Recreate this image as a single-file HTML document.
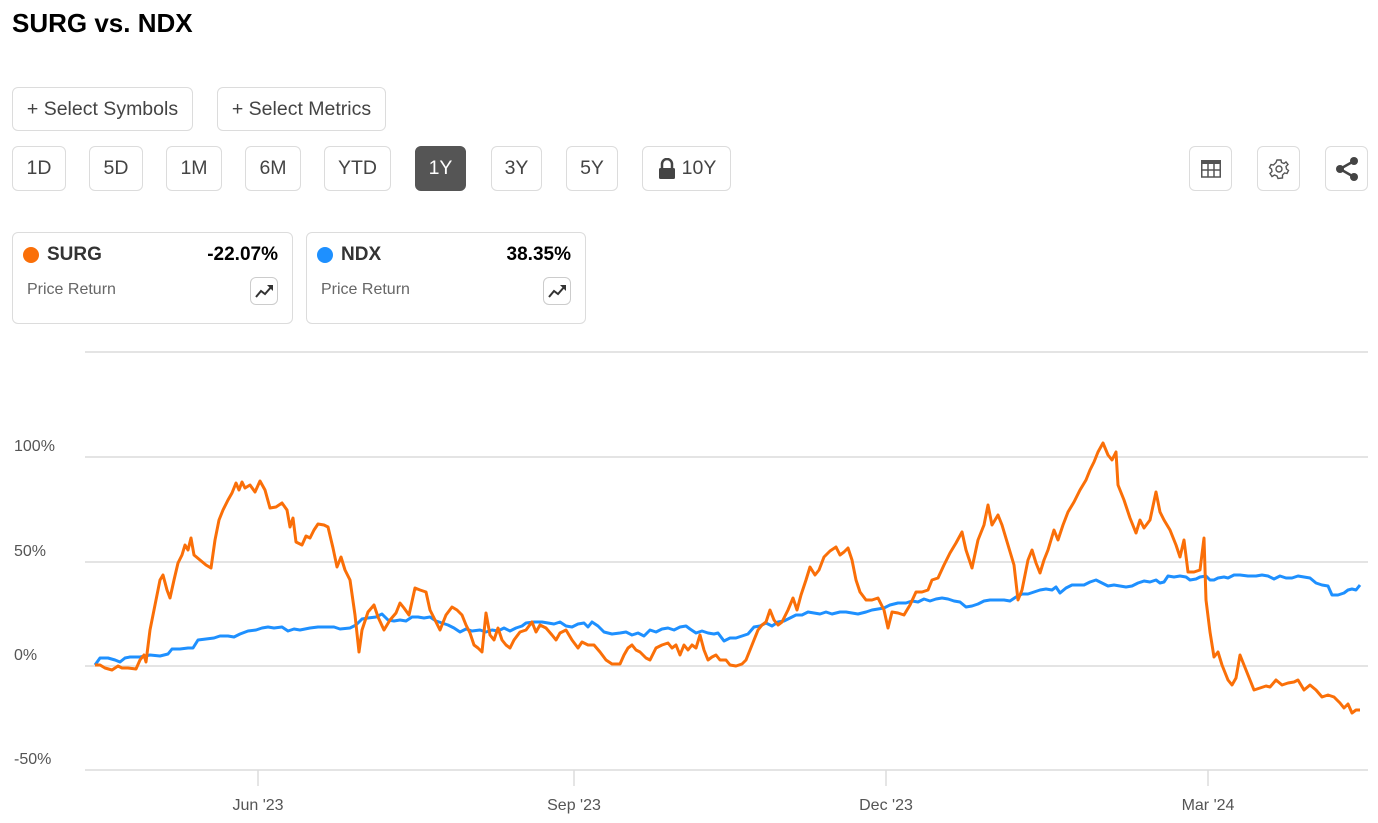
<!DOCTYPE html>
<html><head><style>
body{margin:0;width:1378px;height:823px;background:#fff;font-family:"Liberation Sans",sans-serif;position:relative;overflow:hidden;color:#333}
.a{position:absolute}
.b{position:absolute;border:1px solid #dcdcdc;border-radius:6px;box-sizing:border-box;display:flex;align-items:center;justify-content:center;font-size:19.5px;color:#444;background:#fff}
.card{position:absolute;border:1px solid #dcdcdc;border-radius:6px;box-sizing:border-box;top:232px;height:92px}
.dot{position:absolute;width:16px;height:16px;border-radius:50%;top:14px;left:10px}
.nm{position:absolute;left:34px;top:11px;font-size:19px;font-weight:bold;color:#333}
.pc{position:absolute;right:14px;top:11px;font-size:19px;font-weight:bold;color:#000}
.pr{position:absolute;left:14px;top:48px;font-size:16px;color:#666}
.ic{position:absolute;right:14px;top:44px;width:28px;height:28px;border:1px solid #ccc;border-radius:6px;box-sizing:border-box}
.yl{position:absolute;left:14px;font-size:16px;color:#555}
.xl{position:absolute;top:797px;font-size:16px;color:#555;transform:translateX(-50%)}
</style></head><body>
<div class="a" style="left:12px;top:8px;font-size:26px;font-weight:bold;color:#000">SURG vs. NDX</div>
<div class="b" style="left:12px;top:87px;width:181px;height:44px">+ Select Symbols</div>
<div class="b" style="left:217px;top:87px;width:169px;height:44px">+ Select Metrics</div>
<div class="b" style="left:12px;top:146px;width:54px;height:45px">1D</div>
<div class="b" style="left:89px;top:146px;width:54px;height:45px">5D</div>
<div class="b" style="left:166px;top:146px;width:56px;height:45px">1M</div>
<div class="b" style="left:245px;top:146px;width:56px;height:45px">6M</div>
<div class="b" style="left:324px;top:146px;width:67px;height:45px">YTD</div>
<div class="b" style="left:415px;top:146px;width:51px;height:45px;background:#555;border-color:#555;color:#fff">1Y</div>
<div class="b" style="left:491px;top:146px;width:51px;height:45px">3Y</div>
<div class="b" style="left:566px;top:146px;width:52px;height:45px">5Y</div>
<div class="b" style="left:642px;top:146px;width:89px;height:45px"><svg width="20" height="22" viewBox="0 0 20 22" style="margin-right:5px"><path d="M5 10V6a5 5 0 0 1 10 0v4" fill="none" stroke="#444" stroke-width="2.5"/><rect x="2" y="10" width="16" height="11" rx="1.5" fill="#444"/></svg>10Y</div>
<div class="b" style="left:1189px;top:146px;width:43px;height:45px"><svg width="20" height="18"><rect x="0" y="0" width="20" height="4" fill="#555"/><g fill="none" stroke="#555" stroke-width="1.5"><rect x="0.75" y="3" width="18.5" height="14"/><line x1="7" y1="3" x2="7" y2="17"/><line x1="13" y1="3" x2="13" y2="17"/><line x1="0" y1="10" x2="20" y2="10"/></g></svg></div>
<div class="b" style="left:1257px;top:146px;width:43px;height:45px"><svg width="22" height="22" viewBox="-11 -11 22 22"><g fill="none" stroke="#555" stroke-width="1.4"><path d="M-2,-9 L2,-9 L2.5,-6.5 L5,-5.5 L7,-7 L9,-4.5 L7,-2.5 L7.5,0 L9.5,1.5 L8,4.5 L5.5,4 L3.5,6 L3.5,9 L-1,9.5 L-2,7 L-4.5,6 L-7,7.5 L-9,4.5 L-7,2.5 L-7.5,0 L-9.5,-1.5 L-8,-4.5 L-5.5,-4 L-3,-6.5 Z"/><circle r="3"/></g></svg></div>
<div class="b" style="left:1325px;top:146px;width:43px;height:45px"><svg width="24" height="24"><g stroke="#444" stroke-width="2.5"><line x1="5" y1="12" x2="19" y2="4"/><line x1="5" y1="12" x2="19" y2="20"/></g><circle cx="5" cy="12" r="4" fill="#444"/><circle cx="19" cy="4" r="4" fill="#444"/><circle cx="19" cy="20" r="4" fill="#444"/></svg></div>

<div class="card" style="left:12px;width:281px"><div class="dot" style="background:#fa6f08"></div><div class="nm">SURG</div><div class="pc">-22.07%</div><div class="pr">Price Return</div><div class="ic"><svg width="26" height="26"><polyline points="5,19 10,13 14,16 21,8" fill="none" stroke="#333" stroke-width="2"/><polygon points="16,7 22,7 22,13" fill="#333"/></svg></div></div>
<div class="card" style="left:306px;width:280px"><div class="dot" style="background:#1e90ff"></div><div class="nm">NDX</div><div class="pc">38.35%</div><div class="pr">Price Return</div><div class="ic"><svg width="26" height="26"><polyline points="5,19 10,13 14,16 21,8" fill="none" stroke="#333" stroke-width="2"/><polygon points="16,7 22,7 22,13" fill="#333"/></svg></div></div>

<svg class="a" style="left:0;top:0" width="1378" height="823">
<g stroke="#dcdcdc" stroke-width="1.5"><line x1="85" y1="352" x2="1368" y2="352"/><line x1="85" y1="457" x2="1368" y2="457"/><line x1="85" y1="562" x2="1368" y2="562"/><line x1="85" y1="666" x2="1368" y2="666"/><line x1="85" y1="770" x2="1368" y2="770"/>
<line x1="258" y1="770" x2="258" y2="786"/><line x1="574" y1="770" x2="574" y2="786"/><line x1="886" y1="770" x2="886" y2="786"/><line x1="1208" y1="770" x2="1208" y2="786"/></g>
<polyline fill="none" stroke="#1e90ff" stroke-width="3" stroke-linejoin="round" points="95,665 100,658 108,658 115,660 120,662 125,658 130,657 140,657 150,655 160,656 168,654 172,649 180,649 188,648 193,648 198,640 206,639 214,638 220,636 228,636 234,637 240,634 248,631 256,630 262,628 268,627 274,628 282,627 288,631 294,629 300,630 310,628 318,627 326,627 334,627 340,629 350,628 356,625 362,619 368,618 376,617 382,614 388,620 394,621 400,620 406,621 412,617 418,617 424,618 430,617 436,621 442,623 448,625 454,628 460,632 466,629 472,631 480,630 486,632 492,630 498,631 504,628 510,631 516,628 522,626 526,623 534,622 542,622 548,623 554,624 560,622 566,626 572,627 578,624 584,623 588,627 592,622 598,626 604,632 612,634 620,633 626,632 632,635 638,633 644,636 650,630 656,632 662,629 668,628 674,630 680,627 686,626 690,629 696,633 702,631 708,633 714,634 718,633 724,641 730,638 736,638 742,636 748,634 754,627 760,626 766,623 772,626 778,622 784,621 790,618 796,615 802,615 808,612 814,613 820,614 826,612 832,614 840,612 846,612 852,613 858,614 866,612 872,610 878,609 884,608 890,605 898,603 906,603 912,601 918,602 924,599 930,601 936,599 942,598 948,599 954,601 960,602 966,607 972,606 978,604 984,601 990,600 998,600 1004,600 1010,601 1016,597 1022,594 1028,594 1034,592 1040,590 1046,589 1052,590 1056,587 1060,593 1066,588 1072,585 1078,585 1084,585 1090,582 1096,580 1102,583 1108,586 1114,585 1120,586 1126,587 1132,586 1138,583 1144,581 1150,582 1156,580 1160,583 1164,582 1168,576 1174,577 1180,576 1186,577 1190,580 1196,579 1200,577 1206,576 1210,580 1214,580 1218,578 1224,577 1228,578 1234,575 1240,575 1248,576 1256,576 1262,575 1268,576 1274,579 1280,576 1286,578 1292,578 1298,576 1304,577 1310,578 1316,583 1322,585 1328,586 1332,595 1338,595 1344,593 1348,590 1352,589 1356,590 1360,585"/>
<polyline fill="none" stroke="#fa6f08" stroke-width="3" stroke-linejoin="round" points="95,665 100,665 105,668 112,670 118,666 122,668 128,668 136,669 140,660 144,655 146,662 150,630 155,605 160,580 163,575 167,590 170,598 174,580 178,563 182,555 185,545 188,550 191,538 194,555 200,560 206,565 211,568 215,540 219,520 223,510 228,500 232,493 236,483 239,490 242,482 245,488 250,485 255,492 260,481 265,490 270,508 276,507 282,503 287,510 290,527 293,518 296,542 302,545 306,536 310,538 314,530 318,524 324,525 328,527 333,548 337,567 341,557 345,570 350,580 355,615 359,652 362,630 368,612 374,605 378,617 384,630 390,620 396,613 400,603 404,608 409,615 415,588 420,590 426,592 430,610 435,620 440,630 446,615 452,607 457,610 462,615 466,625 470,633 474,645 478,648 482,652 486,613 490,635 494,640 498,628 502,640 506,645 510,648 514,640 520,632 526,630 532,622 536,632 540,625 546,628 552,635 556,640 560,633 566,630 572,640 578,648 582,642 588,645 594,645 600,652 606,660 612,664 620,664 624,655 628,648 632,645 636,650 640,652 646,658 650,660 656,648 662,645 668,643 672,648 676,645 680,655 684,645 688,650 692,645 696,648 700,635 704,650 708,660 712,657 716,655 720,660 726,660 730,665 736,666 742,664 746,660 750,650 754,640 758,630 762,625 766,622 770,610 774,620 778,625 782,622 788,610 793,598 797,610 801,595 806,580 810,567 815,575 819,570 824,557 830,551 836,547 840,555 844,552 848,548 852,560 856,580 860,592 866,600 872,600 878,598 884,610 888,628 892,612 898,613 904,615 910,605 916,592 922,592 928,590 932,580 938,578 944,565 950,553 956,543 962,532 966,550 972,568 978,540 984,525 988,505 992,525 998,515 1002,525 1008,545 1014,565 1018,600 1022,590 1028,560 1032,550 1036,563 1040,573 1044,560 1048,550 1054,530 1058,540 1063,525 1068,512 1074,502 1080,490 1086,480 1090,470 1094,462 1098,452 1103,443 1108,455 1112,460 1116,452 1118,485 1124,500 1130,518 1136,533 1140,520 1144,528 1150,520 1156,492 1160,512 1164,520 1170,530 1176,545 1180,557 1184,540 1188,572 1194,572 1200,570 1204,538 1206,600 1210,632 1214,657 1218,652 1222,665 1228,680 1232,685 1236,678 1240,655 1244,665 1250,680 1254,690 1260,688 1266,686 1270,687 1276,680 1282,685 1288,683 1294,682 1298,680 1304,690 1310,685 1316,690 1322,697 1328,695 1334,697 1340,703 1344,708 1348,704 1352,713 1356,710 1360,710"/>
</svg>
<div class="yl" style="top:438px">100%</div>
<div class="yl" style="top:543px">50%</div>
<div class="yl" style="top:647px">0%</div>
<div class="yl" style="top:751px">-50%</div>
<div class="xl" style="left:258px">Jun '23</div>
<div class="xl" style="left:574px">Sep '23</div>
<div class="xl" style="left:886px">Dec '23</div>
<div class="xl" style="left:1208px">Mar '24</div>
</body></html>
